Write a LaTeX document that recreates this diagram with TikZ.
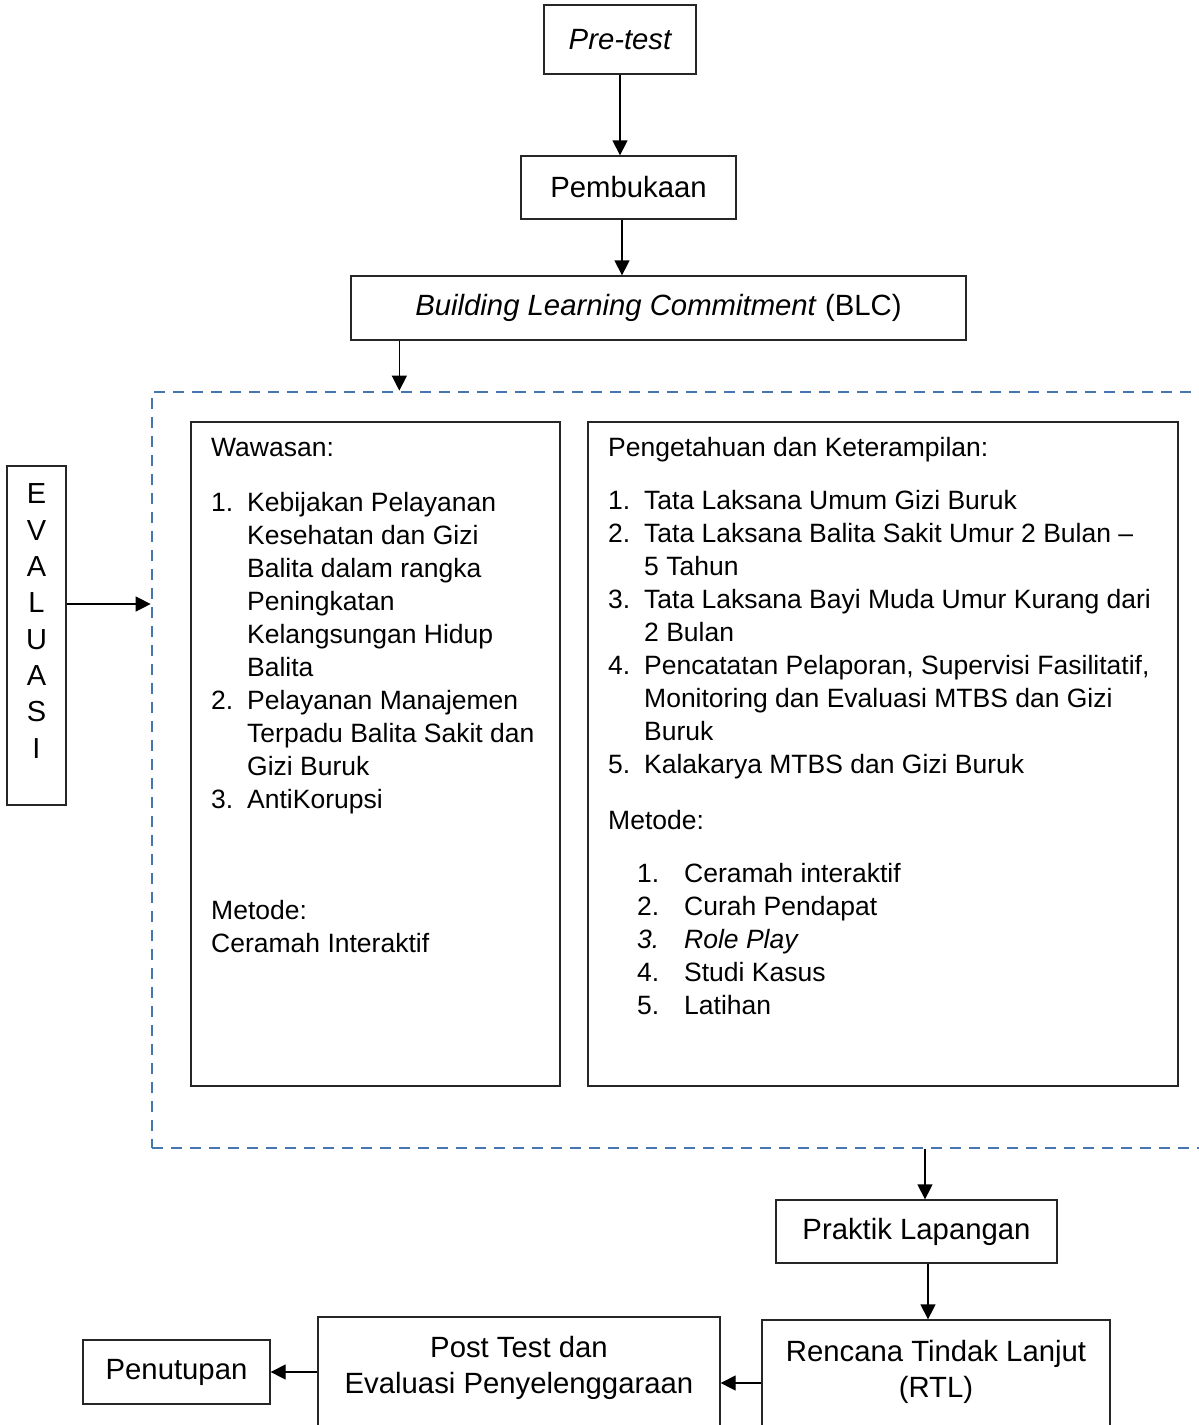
\documentclass[tikz,border=0pt]{standalone}
\usepackage{fontspec}
\setmainfont{Liberation Sans}
\usetikzlibrary{arrows.meta, positioning, calc}

\definecolor{frameblue}{RGB}{70,118,175}
\newcommand{\itm}[2]{\makebox[36pt][l]{#1}#2}
\newcommand{\mtd}[2]{\hspace*{29pt}\makebox[47pt][l]{#1}#2}

\begin{document}
\begin{tikzpicture}[
    x=1pt, y=-1pt,
    font=\fontsize{29.3}{33}\selectfont,
    % Shapes
    box/.style={rectangle, draw=black!85, line width=1.3pt, inner sep=0pt},
    txt/.style={inner sep=0pt, align=left, font=\fontsize{26.5}{33}\selectfont},
    modframe/.style={rectangle, draw=frameblue, line width=2.7pt, dash pattern=on 11pt off 8pt, inner sep=0pt},
    % Connectors
    line/.style={line width=1.3pt, draw=black, -{Triangle[length=15pt, width=15pt]}},
]
\useasboundingbox (0,0) rectangle (1199,1425);
\clip (0,0) rectangle (1199,1425);

% 1. Pembukaan
\node[box, minimum width=152pt, minimum height=69pt] (pretest) at (620,39.5) {\itshape Pre-test};
\node[box, minimum width=215pt, minimum height=63pt] (buka) at (628.5,187.5) {Pembukaan};
\node[box, minimum width=615pt, minimum height=64pt] (blc) at (658.5,308) {\textit{Building Learning Commitment} (BLC)};

% 2. Materi
\node[modframe, minimum width=1063pt, minimum height=756pt] (modul) at (683.5,770) {};
\node[box, minimum width=369pt, minimum height=664pt] (wawasan) at (375.5,754) {};
\node[box, minimum width=590pt, minimum height=664pt] (pengetahuan) at (883,754) {};

\node[txt, anchor=north west] (wawasantxt) at (211,438) {Wawasan:\\[22pt]
    \itm{1.}{Kebijakan Pelayanan}\\
    \itm{}{Kesehatan dan Gizi}\\
    \itm{}{Balita dalam rangka}\\
    \itm{}{Peningkatan}\\
    \itm{}{Kelangsungan Hidup}\\
    \itm{}{Balita}\\
    \itm{2.}{Pelayanan Manajemen}\\
    \itm{}{Terpadu Balita Sakit dan}\\
    \itm{}{Gizi Buruk}\\
    \itm{3.}{AntiKorupsi}\\[78pt]
    Metode:\\
    Ceramah Interaktif};

\node[txt, anchor=north west] (pengetahuantxt) at (608,437) {Pengetahuan dan Keterampilan:\\[20pt]
    \itm{1.}{Tata Laksana Umum Gizi Buruk}\\
    \itm{2.}{Tata Laksana Balita Sakit Umur 2 Bulan –}\\
    \itm{}{5 Tahun}\\
    \itm{3.}{Tata Laksana Bayi Muda Umur Kurang dari}\\
    \itm{}{2 Bulan}\\
    \itm{4.}{Pencatatan Pelaporan, Supervisi Fasilitatif,}\\
    \itm{}{Monitoring dan Evaluasi MTBS dan Gizi}\\
    \itm{}{Buruk}\\
    \itm{5.}{Kalakarya MTBS dan Gizi Buruk}\\[23pt]
    Metode:\\[20pt]
    \mtd{1.}{Ceramah interaktif}\\
    \mtd{2.}{Curah Pendapat}\\
    \mtd{\textit{3.}}{\textit{Role Play}}\\
    \mtd{4.}{Studi Kasus}\\
    \mtd{5.}{Latihan}};

% Evaluasi
\node[box, minimum width=59pt, minimum height=339pt] (evaluasi) at (36.5,635.5) {};
\node[txt, align=center, font=\fontsize{29}{36.3}\selectfont] (evaluasitxt) at (36.5,621) {E\\V\\A\\L\\U\\A\\S\\I};

% 3. Penutup
\node[box, minimum width=281pt, minimum height=63pt] (praktik) at (916.5,1231.5) {Praktik Lapangan};
\node[box, minimum width=348pt, minimum height=126pt] (rtl) at (936,1383) {};
\node[txt, align=center, anchor=north, font=\fontsize{29.3}{36.5}\selectfont] (rtltxt) at (936,1340) {Rencana Tindak Lanjut\\(RTL)};
\node[box, minimum width=402pt, minimum height=132pt] (posttest) at (519,1383) {};
\node[txt, align=center, anchor=north, font=\fontsize{29.3}{36}\selectfont] (posttxt) at (519,1336) {Post Test dan\\Evaluasi Penyelenggaraan};
\node[box, minimum width=187pt, minimum height=64pt] (tutup) at (176.5,1372) {Penutupan};

% Connections
\draw[line] (pretest) -- (pretest |- buka.north);
\draw[line] ([xshift=-6.5pt]buka.south) -- ([xshift=-6.5pt]buka.south |- blc.north);
\draw[line] ([xshift=49pt]blc.south west) -- ([xshift=49pt]blc.south west |- modul.north);
\draw[line] ([yshift=31.5pt]evaluasi.east) -- ([yshift=31.5pt]evaluasi.east -| modul.west);
\draw[line] ([xshift=8.5pt]praktik.north |- modul.south) -- ([xshift=8.5pt]praktik.north);
\draw[line] ([xshift=11.5pt]praktik.south) -- ([xshift=11.5pt]praktik.south |- rtl.north);
\draw[line] (rtl.west) -- (posttest.east);
\draw[line] (posttest.west |- tutup.east) -- (tutup.east);

\end{tikzpicture}
\end{document}
